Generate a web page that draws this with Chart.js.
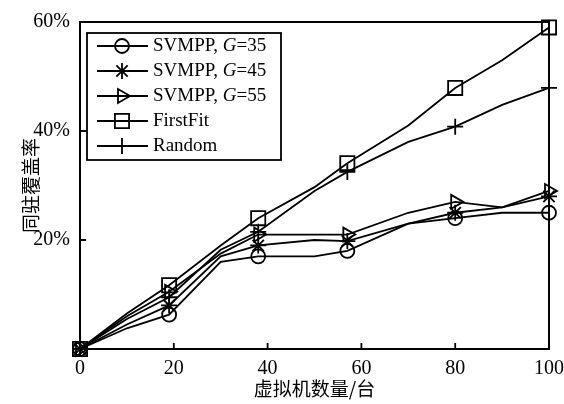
<!DOCTYPE html>
<html>
<head>
<meta charset="utf-8">
<script src="https://cdn.jsdelivr.net/npm/chart.js@4/dist/chart.umd.min.js"></script>
<style>
    body { margin: 0; background: #fff; }
    canvas { display: block; }
</style>
</head>
<body>
<canvas id="coverChart" width="564" height="404"></canvas>
<script>
// x positions of the sampled points; markers only drawn where markerAt = 1
const vmCounts = [0, 10, 19, 30, 38, 50, 57, 70, 80, 90, 100];
const markerAt = [1, 0, 1, 0, 1, 0, 1, 0, 1, 0, 1];

const svmppG35 = [0, 3.8, 6.3, 16, 17, 17, 18, 23, 24, 25, 25];
const svmppG45 = [0, 4.5, 8, 17, 19, 20, 19.8, 23, 25, 26, 28];
const svmppG55 = [0, 6, 10.5, 17.5, 21, 21, 21, 25, 27, 26, 29];
const firstFit = [0, 6.5, 11.7, 19, 24, 29.7, 34.1, 41, 47.9, 53, 59];
const randomFit = [0, 5.5, 9.5, 18.2, 21.5, 29, 32.5, 38, 40.8, 44.8, 47.9];

const seriesLabels = ['SVMPP, G=35', 'SVMPP, G=45', 'SVMPP, G=55', 'FirstFit', 'Random'];
const xTicks = [0, 20, 40, 60, 80, 100];
const yTicks = [20, 40, 60];

const serif = '"Liberation Serif", "Noto Sans CJK SC", serif';
const cjk = '"Noto Sans CJK SC", sans-serif';

function toPoints(values) {
    return values.map((v, i) => ({ x: vmCounts[i], y: v }));
}

function makeDataset(label, values, style, radius, rotation) {
    return {
        label: label,
        data: toPoints(values),
        borderColor: '#000',
        borderWidth: 1.8,
        pointStyle: style,
        pointRotation: rotation || 0,
        pointRadius: markerAt.map(m => m ? radius : 0),
        pointBorderColor: '#000',
        pointBorderWidth: 1.8,
        pointBackgroundColor: 'rgba(0,0,0,0)',
        tension: 0,
        clip: false
    };
}

// frame, inward ticks and the boxed legend
const framePlugin = {
    id: 'frame',
    afterDatasetsDraw(chart) {
        const { ctx, chartArea: a, scales } = chart;
        ctx.save();
        ctx.strokeStyle = '#000';
        ctx.lineWidth = 2;
        ctx.strokeRect(a.left, a.top, a.right - a.left, a.bottom - a.top);

        ctx.lineWidth = 1.8;
        ctx.beginPath();
        xTicks.slice(1, -1).forEach(v => {
            const px = scales.x.getPixelForValue(v);
            ctx.moveTo(px, a.bottom);
            ctx.lineTo(px, a.bottom - 6);
        });
        yTicks.slice(0, -1).forEach(v => {
            const py = scales.y.getPixelForValue(v);
            ctx.moveTo(a.left, py);
            ctx.lineTo(a.left + 6, py);
        });
        ctx.stroke();

        // legend box
        const bx = 87, by = 33, bw = 194, bh = 127;
        ctx.fillStyle = '#fff';
        ctx.fillRect(bx, by, bw, bh);
        ctx.lineWidth = 1.8;
        ctx.strokeRect(bx, by, bw, bh);

        chart.data.datasets.forEach((ds, i) => {
            const y = 46 + i * 25;
            ctx.strokeStyle = '#000';
            ctx.lineWidth = 1.8;
            ctx.beginPath();
            ctx.moveTo(97, y);
            ctx.lineTo(148, y);
            ctx.stroke();
            const r = Math.max(...ds.pointRadius);
            ctx.fillStyle = 'rgba(0,0,0,0)';
            Chart.helpers.drawPoint(ctx, {
                pointStyle: ds.pointStyle,
                rotation: ds.pointRotation,
                radius: r,
                borderWidth: 1.8
            }, 122, y);

            ctx.fillStyle = '#000';
            ctx.textBaseline = 'middle';
            ctx.textAlign = 'left';
            let x = 153;
            const parts = ds.label.split('G=');
            ctx.font = '19px ' + serif;
            if (parts.length === 2) {
                ctx.fillText(parts[0], x, y);
                x += ctx.measureText(parts[0]).width;
                ctx.font = 'italic 19px ' + serif;
                ctx.fillText('G', x, y);
                x += ctx.measureText('G').width;
                ctx.font = '19px ' + serif;
                ctx.fillText('=' + parts[1], x, y);
            } else {
                ctx.fillText(ds.label, x, y);
            }
        });
        ctx.restore();
    }
};

new Chart(document.getElementById('coverChart').getContext('2d'), {
    type: 'line',
    data: {
        datasets: [
            makeDataset(seriesLabels[0], svmppG35, 'circle', 7),
            makeDataset(seriesLabels[1], svmppG45, 'star', 8),
            makeDataset(seriesLabels[2], svmppG55, 'triangle', 8, 90),
            makeDataset(seriesLabels[3], firstFit, 'rect', 10),
            makeDataset(seriesLabels[4], randomFit, 'cross', 8)
        ]
    },
    options: {
        responsive: false,
        animation: false,
        layout: { padding: { left: 0, right: 11, top: 22, bottom: 4 } },
        plugins: {
            legend: { display: false },
            tooltip: { enabled: false }
        },
        scales: {
            x: {
                type: 'linear',
                min: 0,
                max: 100,
                grid: { display: false },
                border: { display: false },
                afterBuildTicks: scale => { scale.ticks = xTicks.map(v => ({ value: v })); },
                afterFit: scale => { scale.height = 404 - 349 - 4; },
                ticks: {
                    color: '#000',
                    padding: 0,
                    maxRotation: 0,
                    font: { family: serif, size: 20 }
                },
                title: {
                    display: true,
                    text: '虚拟机数量/台',
                    color: '#000',
                    padding: { top: 0, bottom: 0 },
                    font: { family: cjk, size: 19 }
                }
            },
            y: {
                min: 0,
                max: 60,
                grid: { display: false },
                border: { display: false },
                afterBuildTicks: scale => { scale.ticks = yTicks.map(v => ({ value: v })); },
                afterFit: scale => { scale.width = 80; },
                ticks: {
                    color: '#000',
                    padding: 2,
                    font: { family: serif, size: 20 },
                    callback: v => v + '%'
                },
                title: {
                    display: true,
                    text: '同驻覆盖率',
                    color: '#000',
                    padding: { top: 19, bottom: 0 },
                    font: { family: cjk, size: 19 }
                }
            }
        }
    },
    plugins: [framePlugin]
});
</script>
</body>
</html>
